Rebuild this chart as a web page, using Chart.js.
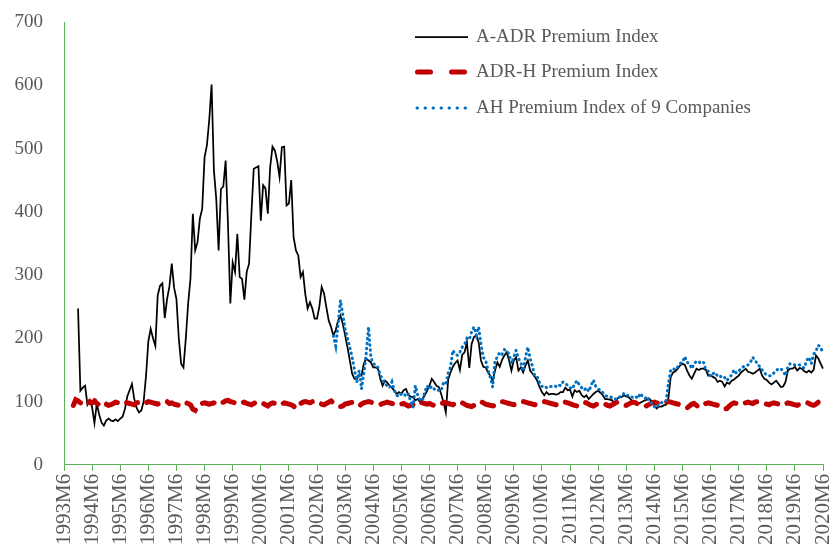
<!DOCTYPE html>
<html>
<head>
<meta charset="utf-8">
<script src="https://cdn.jsdelivr.net/npm/chart.js@4.4.1/dist/chart.umd.min.js"></script>
<style>
  html, body { margin: 0; padding: 0; background: #fff; }
  #wrap { width: 831px; height: 550px; position: relative; }
</style>
</head>
<body>
<div id="wrap"><canvas id="myChart"></canvas></div>
<script>
// monthly categories 1993M6 .. 2020M6
const months = [];
for (let k = 0; k < 325; k++) {
  const m = 5 + k;
  months.push((1993 + Math.floor(m / 12)) + 'M' + (m % 12 + 1));
}

const seriesNames = ['A-ADR Premium Index', 'ADR-H Premium Index', 'AH Premium Index of 9 Companies'];
const yTicks = [0, 100, 200, 300, 400, 500, 600, 700];

// A-ADR, starts 1993M12
const aAdr = [null, null, null, null, null, null,
  247,117,122,125,95,102,91,66,97,80,
  67,62,70,73,70,69,72,69,73,76,
  88,108,118,128,104,90,83,86,100,140,
  195,215,200,188,268,283,287,232,262,282,
  318,280,262,200,160,154,200,255,295,397,
  339,352,389,405,486,505,545,601,465,420,
  339,436,440,481,380,255,320,305,365,297,
  294,261,305,318,397,468,470,472,386,442,
  437,397,470,503,497,480,455,502,503,410,
  413,450,360,339,331,297,305,270,247,257,
  247,231,231,250,281,271,249,228,218,204,
  213,228,236,223,205,186,165,144,136,136,
  141,141,160,168,165,162,154,154,152,136,
  125,133,130,125,122,117,112,115,112,118,
  120,110,108,107,102,104,99,104,110,117,
  125,136,131,125,123,112,99,83,135,146,
  155,161,165,150,174,178,194,153,191,202,
  205,194,165,155,154,146,141,133,149,162,
  155,166,173,178,165,149,165,170,149,154,
  146,157,165,149,144,139,133,123,115,110,
  115,111,112,112,111,112,115,115,122,118,
  119,108,118,115,117,110,107,110,104,108,
  112,115,117,114,110,104,104,103,102,97,
  104,107,107,110,108,107,103,99,100,96,
  98,100,102,103,104,100,94,89,92,92,
  94,95,105,139,146,148,152,157,160,158,
  149,141,136,144,152,150,152,152,150,141,
  142,139,137,131,133,131,124,130,128,133,
  135,138,141,146,149,152,147,146,144,146,
  149,152,141,136,134,130,127,130,133,128,
  123,124,131,149,152,152,155,149,153,152,
  148,146,149,146,150,173,168,160,152];

// ADR-H, starts 1993M10
const adrH = [null, null, null, null,
  94,103,101,98,97,99,96,100,98,101,97,95,
  99,98,96,94,95,97,99,98,100,101,99,98,
  97,96,95,98,99,97,96,98,100,99,98,97,
  96,98,99,101,100,97,98,96,95,94,97,99,
  98,97,95,88,86,92,95,97,98,97,96,97,
  98,96,95,98,99,101,102,100,99,98,97,96,
  98,99,97,96,95,97,99,100,98,97,95,93,
  96,98,97,95,94,96,98,97,96,95,93,89,
  92,97,99,100,99,98,100,101,99,98,96,95,
  97,99,101,98,95,94,92,93,96,97,98,99,
  97,95,93,96,98,99,100,99,98,97,96,95,
  97,98,99,98,97,96,95,94,96,97,95,93,
  94,95,98,100,99,98,97,96,97,95,94,93,
  94,96,99,98,97,96,95,97,99,100,98,96,
  94,93,92,94,97,99,100,98,96,95,94,93,
  94,96,98,100,99,98,97,96,95,96,98,99,
  100,99,98,97,96,95,97,98,99,100,99,98,
  97,96,95,94,96,98,99,98,97,95,94,93,
  95,97,99,98,96,94,93,95,97,98,97,96,
  94,93,95,97,99,98,96,95,94,96,98,99,
  98,96,94,93,92,94,96,98,99,98,97,96,
  97,99,100,99,98,97,96,95,94,92,90,93,
  96,97,94,91,92,95,97,98,97,96,95,94,
  93,90,88,89,93,96,98,97,96,95,97,98,
  99,98,97,99,100,99,98,97,96,95,97,98,
  97,96,95,94,96,98,97,96,95,94,96,97,
  98,99,97,95,94,96,99,101,102];

// AH index of 9 companies, starts 2003M1
const ah9 = new Array(115).fill(null).concat([
  204,188,222,260,238,215,200,186,170,150,
  131,149,120,145,175,218,170,160,158,154,
  142,135,128,125,122,131,118,110,108,112,
  113,108,112,100,91,125,110,102,102,115,
  125,120,124,120,117,118,117,130,128,145,
  154,181,175,173,178,186,190,200,198,210,
  218,205,218,190,170,165,150,138,123,165,
  170,178,175,182,180,175,160,170,181,168,
  162,148,170,186,168,155,140,139,130,124,
  125,122,124,124,125,124,127,125,131,128,
  126,122,120,128,133,126,122,118,122,116,
  125,134,124,120,118,114,110,108,108,106,
  104,104,107,108,113,110,110,108,106,108,
  105,113,108,105,108,101,96,92,90,96,
  98,100,101,128,150,152,150,155,160,162,
  171,162,160,152,160,164,163,160,162,150,
  148,140,144,146,140,141,137,138,133,138,
  142,150,145,148,152,155,157,158,162,170,
  165,160,155,150,145,142,141,141,145,149,
  152,152,148,141,155,160,159,158,157,158,
  155,153,165,170,160,175,180,189,186,175]);

const axisGreen = '#5cb35c';
const textGray = '#595959';
const serif = '"Liberation Serif", "Times New Roman", serif';

// legend drawn inside the plot, upper right
const legendBox = {
  id: 'legendBox',
  afterDraw(chart) {
    const ctx = chart.ctx;
    const rows = [37, 72, 108];
    chart.data.datasets.forEach(function(ds, k) {
      const y = rows[k];
      ctx.save();
      ctx.strokeStyle = ds.borderColor;
      ctx.lineWidth = ds.borderWidth;
      ctx.lineCap = ds.borderCapStyle || 'butt';
      ctx.setLineDash(ds.legendDash || []);
      ctx.beginPath();
      ctx.moveTo(ds.legendFrom || 415, y);
      ctx.lineTo(ds.legendTo || 468, y);
      ctx.stroke();
      ctx.restore();
      ctx.save();
      ctx.fillStyle = textGray;
      ctx.font = '19px ' + serif;
      ctx.textBaseline = 'middle';
      ctx.fillText(ds.label, 476, y);
      ctx.restore();
    });
  }
};

var myChart = new Chart('myChart', {
  type: 'line',
  data: {
    labels: months,
    datasets: [{
      label: seriesNames[0],
      data: aAdr,
      borderColor: '#000000',
      borderWidth: 1.75,
      order: 3
    }, {
      label: seriesNames[1],
      data: adrH,
      borderColor: '#c00000',
      borderWidth: 5,
      borderDash: [12, 10],
      borderCapStyle: 'round',
      legendDash: [13, 21],
      legendFrom: 417.5,
      legendTo: 466,
      order: 2
    }, {
      label: seriesNames[2],
      data: ah9,
      borderColor: '#0070c0',
      borderWidth: 3,
      borderDash: [0.5, 4.5],
      borderCapStyle: 'round',
      legendDash: [0.5, 7.5],
      legendFrom: 417,
      legendTo: 468,
      order: 1
    }]
  },
  options: {
    responsive: true,
    maintainAspectRatio: false,
    animation: false,
    layout: { padding: { left: 12, right: 8, top: 22, bottom: 2 } },
    elements: { point: { radius: 0 }, line: { tension: 0 } },
    plugins: { legend: { display: false }, tooltip: { enabled: false } },
    scales: {
      x: {
        offset: false,
        afterFit: function(scale) { scale.paddingLeft = 0; scale.paddingRight = 0; },
        grid: { drawOnChartArea: false, drawTicks: true, tickLength: 6, color: axisGreen },
        border: { color: axisGreen, width: 1 },
        ticks: {
          autoSkip: false,
          maxRotation: 90,
          minRotation: 90,
          padding: 3,
          color: textGray,
          font: { family: serif, size: 21 },
          callback: function(val, idx) {
            return idx % 12 === 0 ? this.getLabelForValue(val) : null;
          }
        }
      },
      y: {
        min: 0,
        max: 700,
        afterBuildTicks: function(scale) { scale.ticks = yTicks.map(v => ({ value: v })); },
        afterFit: function(scale) {
          scale.width = 52;
          scale.paddingTop = 0;
          scale.paddingBottom = 0;
        },
        grid: { drawOnChartArea: false, drawTicks: false },
        border: { color: axisGreen, width: 1 },
        ticks: { padding: 21, color: textGray, font: { family: serif, size: 19 } }
      }
    }
  },
  plugins: [legendBox]
});
</script>
</body>
</html>
